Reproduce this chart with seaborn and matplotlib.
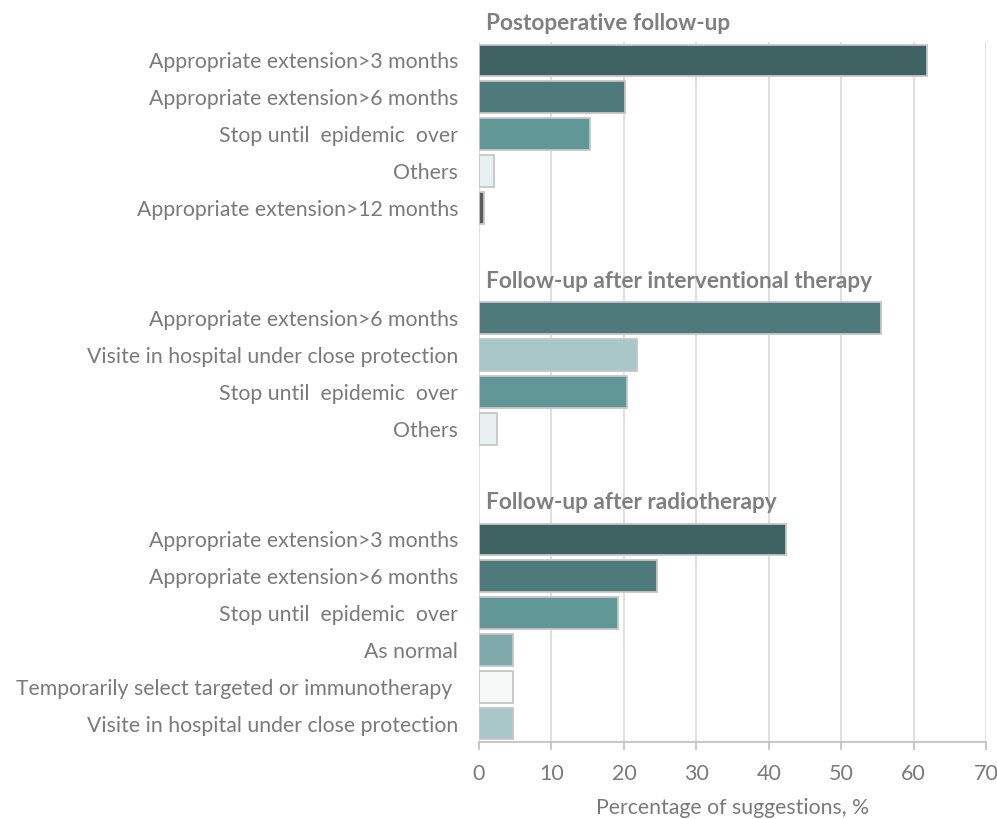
import matplotlib
matplotlib.use('Agg')
import matplotlib.pyplot as plt
import seaborn as sns
import pandas as pd

# Data
groups = ['Postoperative follow-up',
          'Follow-up after interventional therapy',
          'Follow-up after radiotherapy']

labels_post = ['Appropriate extension>3 months', 'Appropriate extension>6 months',
               'Stop until  epidemic  over', 'Others', 'Appropriate extension>12 months']
values_post = [61.9, 20.2, 15.3, 2.1, 0.7]

labels_interv = ['Appropriate extension>6 months', 'Visite in hospital under close protection',
                 'Stop until  epidemic  over', 'Others']
values_interv = [55.5, 21.8, 20.4, 2.5]

labels_radio = ['Appropriate extension>3 months', 'Appropriate extension>6 months',
                'Stop until  epidemic  over', 'As normal',
                'Temporarily select targeted or immunotherapy ',
                'Visite in hospital under close protection']
values_radio = [42.4, 24.6, 19.2, 4.7, 4.7, 4.7]

# colour per suggestion
colors = {
    'Appropriate extension>3 months': '#3f6263',
    'Appropriate extension>6 months': '#4f7a7c',
    'Stop until  epidemic  over': '#629798',
    'Others': '#e9f0f2',
    'Appropriate extension>12 months': '#5b5b5b',
    'Visite in hospital under close protection': '#a9c6c8',
    'As normal': '#80a9ad',
    'Temporarily select targeted or immunotherapy ': '#f7f9f9',
}

# build the table and the row order (header rows + blank spacer rows)
rows = []
order = []
ticklabels = []
headers = {}
for gi, (g, labs, vals) in enumerate(zip(groups,
                                          [labels_post, labels_interv, labels_radio],
                                          [values_post, values_interv, values_radio])):
    if gi > 0:
        order.append(f'blank{gi}')
        ticklabels.append('')
    headers[len(order)] = g
    order.append(f'head{gi}')
    ticklabels.append('')
    for i, (lab, v) in enumerate(zip(labs, vals)):
        key = f'{gi}-{i}'
        rows.append({'key': key, 'label': lab, 'value': v})
        order.append(key)
        ticklabels.append(lab)

df = pd.DataFrame(rows)
palette = {r['key']: colors[r['label']] for r in rows}

plt.rcParams['font.family'] = ['Lato', 'DejaVu Sans']
txt = '#7a7a7a'

fig = plt.figure(figsize=(9.97, 8.19), dpi=100)
ax = fig.add_axes([0.4805, 0.094, 0.5085, 0.8547])

sns.barplot(data=df, x='value', y='key', order=order, hue='key', palette=palette,
            legend=False, orient='h', width=0.86, edgecolor='#c6c6c6',
            linewidth=1.3, saturation=1, ax=ax, zorder=3)

ax.set_xticks(range(0, 71, 10))
ax.set_yticks(range(len(order)))
ax.set_yticklabels(ticklabels)
ax.set_xlim(0, 70)
ax.set_ylim(len(order) - 0.5, 0.5)
ax.tick_params(axis='y', length=0, pad=15, labelsize=15.3, labelcolor=txt)
ax.tick_params(axis='x', length=6, color='#bfbfbf', width=1.2, pad=10,
               labelsize=15.5, labelcolor=txt)
ax.grid(axis='x', color='#d9d9d9', linewidth=1.2, zorder=0)
ax.set_axisbelow(True)
for s in ['top', 'right', 'left']:
    ax.spines[s].set_visible(False)
ax.spines['bottom'].set_color('#bfbfbf')
ax.spines['bottom'].set_linewidth(1.2)
ax.set_ylabel('')
ax.set_xlabel('Percentage of suggestions, %', fontsize=15.3, color=txt, labelpad=10)

for pos, g in headers.items():
    ax.text(1.0, pos, g, fontsize=16.3, fontweight='bold', color='#7f7f7f',
            va='center', ha='left', clip_on=False, zorder=5)

fig.savefig('out.png', dpi=100)
